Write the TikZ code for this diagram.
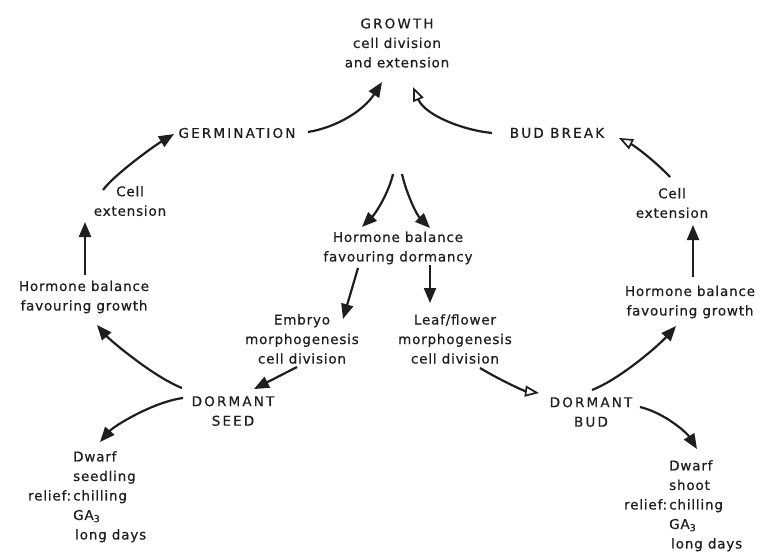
\documentclass[tikz,border=0pt]{standalone}
\usepackage{fontspec}
\setmainfont[LetterSpace=6,FakeBold=0.6]{DejaVu Sans}
\newfontfamily\capsfont[LetterSpace=16,FakeBold=0.6]{DejaVu Sans}
\usetikzlibrary{arrows.meta,calc}
\definecolor{ink}{HTML}{1E1E1E}
\tikzset{
  lbl/.style={align=center, inner sep=1pt, text=ink, font=\fontsize{13.5}{19.5}\selectfont},
  capl/.style={align=center, inner sep=1pt, text=ink, font=\capsfont\fontsize{13.5}{19.5}\selectfont},
  blk/.style={align=left, inner sep=0pt, anchor=north west, text=ink, font=\fontsize{13.5}{19.5}\selectfont},
  arr/.style={draw=ink, line width=2.2pt, -{Triangle[length=15pt,width=12pt]}},
  oarr/.style={draw=ink, line width=2.2pt, -{Triangle[open,length=14pt,width=11pt,line width=1.7pt]}},
}
\begin{document}
\begin{tikzpicture}[x=1pt,y=-1pt]
\useasboundingbox (0,0) rectangle (763,555);
% nodes
\node[lbl] (growth) at (397,43) {{\capsfont GROWTH}\\cell division\\and extension};
\node[capl] (germ) at (237,133) {GERMINATION};
\node[capl] (budbreak) at (557,133) {BUD BREAK};
\node[lbl] (cellL) at (130,201) {Cell\\extension};
\node[lbl] (hormL) at (84,297) {Hormone balance\\favouring growth};
\node[capl] (seed) at (233,411) {DORMANT\\SEED};
\node[blk] (dwarfL) at (73,451) {Dwarf\\seedling\\\llap{relief:\kern2pt}chilling\\GA\textsubscript{3}\\\hspace{2pt}long days};
\node[lbl] (dorm) at (398,248) {Hormone balance\\favouring dormancy};
\node[lbl] (embryo) at (302,339) {Embryo\\morphogenesis\\cell division};
\node[lbl] (leaf) at (455,339) {Leaf/flower\\morphogenesis\\cell division};
\node[capl] (bud) at (591,412) {DORMANT\\BUD};
\node[blk] (dwarfR) at (669,460) {Dwarf\\shoot\\\llap{relief:\kern2pt}chilling\\GA\textsubscript{3}\\\hspace{2pt}long days};
\node[lbl] (hormR) at (690,302) {Hormone balance\\favouring growth};
\node[lbl] (cellR) at (672,203) {Cell\\extension};
\coordinate (forkL) at (393,174);
\coordinate (forkR) at (402,174);
% connectors
\draw[arr] ($(germ)+(71,-1)$) .. controls +(30,-5) and +(-18,28) .. ($(growth)+(-15,39)$);
\draw[oarr] ($(budbreak)+(-65,0)$) .. controls +(-30,-3) and +(12,28) .. ($(growth)+(16,44)$);
\draw[arr] ($(cellL)+(-27,-11)$) .. controls +(12,-16) and +(-20,12) .. ($(germ)+(-63,1)$);
\draw[arr] ($(hormL)+(1,-22)$) -- ($(cellL)+(-45,21)$);
\draw[arr] ($(seed)+(-51,-23)$) .. controls +(-30,-12) and +(12,14) .. ($(hormL)+(13,28)$);
\draw[arr] ($(seed)+(-50,-13)$) .. controls +(-30,4) and +(14,-16) .. ($(dwarfL.north west)+(27,-9)$);
\draw[arr] (forkL) .. controls +(-4,18) and +(14,-14) .. ($(dorm)+(-36,-21)$);
\draw[arr] (forkR) .. controls +(4,18) and +(-14,-14) .. ($(dorm)+(32,-20)$);
\draw[arr] ($(dorm)+(-40,20)$) -- ($(embryo)+(41,-20)$);
\draw[arr] ($(dorm)+(32,17)$) -- ($(leaf)+(-25,-36)$);
\draw[arr] ($(embryo)+(-5,28)$) -- ($(seed)+(21,-22)$);
\draw[oarr] ($(leaf)+(25,29)$) .. controls +(20,12) and +(-15,-2) .. ($(bud)+(-52,-19)$);
\draw[arr] ($(bud)+(49,-5)$) .. controls +(25,6) and +(-10,-16) .. ($(dwarfR.north west)+(28,-11)$);
\draw[arr] ($(bud)+(1,-22)$) .. controls +(30,-12) and +(-16,18) .. ($(hormR)+(-14,24)$);
\draw[arr] ($(hormR)+(3,-25)$) -- ($(cellR)+(21,22)$);
\draw[oarr] ($(cellR)+(-2,-26)$) .. controls +(-14,-15) and +(16,8) .. ($(budbreak)+(62,5)$);
\end{tikzpicture}
\end{document}
